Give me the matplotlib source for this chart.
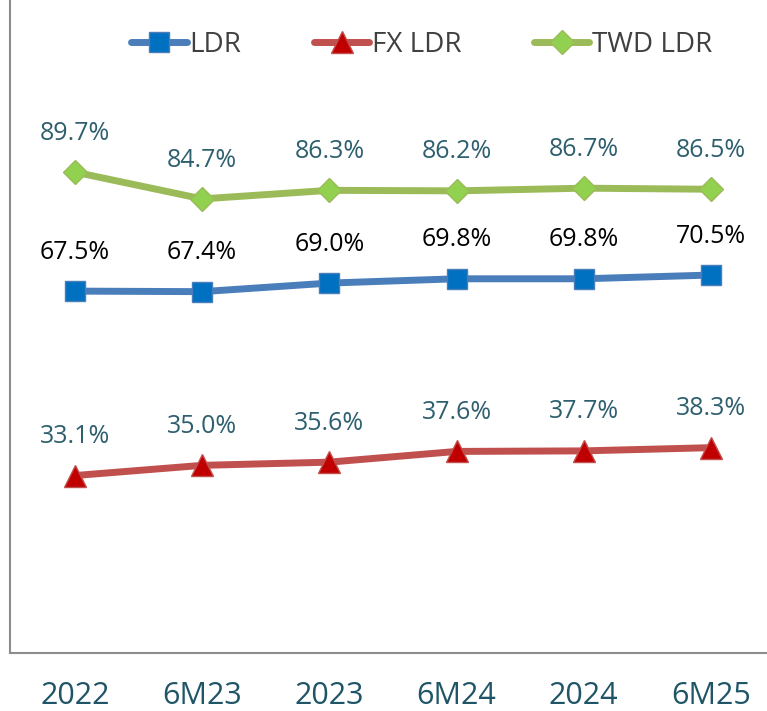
import matplotlib
matplotlib.use("Agg")
import matplotlib.pyplot as plt

periods = ["2022", "6M23", "2023", "6M24", "2024", "6M25"]
ldr = [67.5, 67.4, 69.0, 69.8, 69.8, 70.5]
fx_ldr = [33.1, 35.0, 35.6, 37.6, 37.7, 38.3]
twd_ldr = [89.7, 84.7, 86.3, 86.2, 86.7, 86.5]

plt.rcParams["font.family"] = ["Open Sans", "DejaVu Sans"]

fig = plt.figure(figsize=(7.67, 7.11), dpi=100)
ax = fig.add_axes([10 / 767, 58 / 711, 757 / 767, 653 / 711])

xs = list(range(len(periods)))
label_teal = "#2E5F6E"

ax.plot(xs, ldr, color="#4A7EBB", lw=5, marker="s", ms=15,
        mfc="#0070C0", mec="#4A7EBB", mew=1, label="LDR",
        solid_capstyle="round", zorder=3)
ax.plot(xs, fx_ldr, color="#C0504D", lw=5, marker="^", ms=16,
        mfc="#C00000", mec="#C0504D", mew=1, label="FX LDR",
        solid_capstyle="round", zorder=3)
ax.plot(xs, twd_ldr, color="#9BBB59", lw=5, marker="D", ms=12,
        mfc="#92D050", mec="#9BBB59", mew=1, label="TWD LDR",
        solid_capstyle="round", zorder=3)

for series, col in [(ldr, "black"), (fx_ldr, label_teal), (twd_ldr, label_teal)]:
    for x, v in zip(xs, series):
        ax.annotate(f"{v:.1f}%", (x, v), xytext=(0, 28), textcoords="offset points",
                    ha="center", va="center", fontsize=18, color=col)

ax.set_xlim(-0.51, 5.44)
ax.set_ylim(0, 121.8)
ax.set_xticks(xs)
ax.set_xticklabels(periods, fontsize=22, color="#1F5566")
ax.tick_params(axis="x", length=0, pad=20)
ax.set_yticks([])
for side in ["top", "right"]:
    ax.spines[side].set_visible(False)
for side in ["left", "bottom"]:
    ax.spines[side].set_color("#8C8C8C")
    ax.spines[side].set_linewidth(1.5)

leg = fig.legend(loc="center", bbox_to_anchor=(0.55, 0.937), ncol=3,
                 frameon=False, fontsize=20, handlelength=2.0,
                 columnspacing=2.6, handletextpad=0.1)
for t in leg.get_texts():
    t.set_color("#404040")

fig.savefig("out.png", dpi=100)
